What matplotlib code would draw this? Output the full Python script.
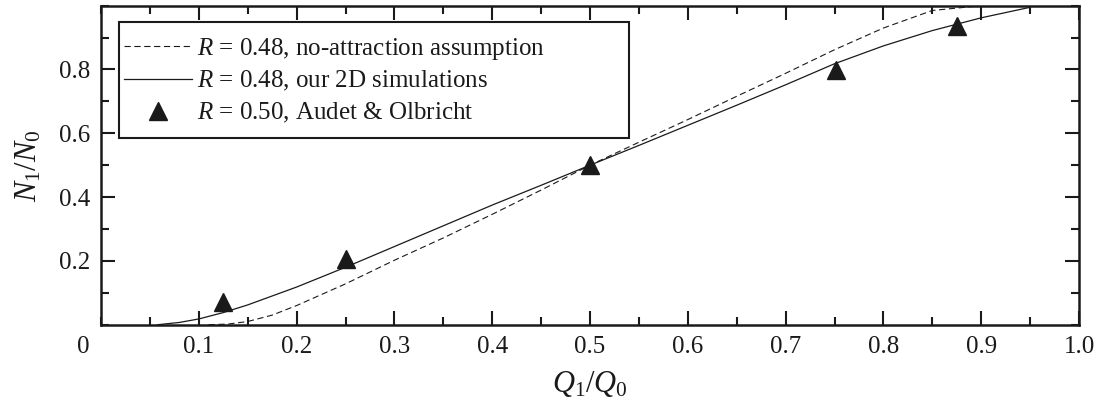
import matplotlib
matplotlib.use("Agg")
import matplotlib.pyplot as plt
from matplotlib.patches import Rectangle
from matplotlib.ticker import MultipleLocator

# ------------------------------------------------------------------
# Datos
# ------------------------------------------------------------------

# R = 0.48, hipótesis sin atracción (línea discontinua)
dash_x = [0.11, 0.13, 0.15, 0.175, 0.2, 0.25, 0.3, 0.35, 0.4, 0.45, 0.5,
          0.55, 0.6, 0.65, 0.7, 0.75, 0.8, 0.85, 0.9]
dash_y = [0.0, 0.002, 0.01, 0.03, 0.06, 0.128, 0.202, 0.272, 0.346, 0.422, 0.5,
          0.572, 0.643, 0.716, 0.788, 0.862, 0.93, 0.985, 1.0]

# R = 0.48, simulaciones 2D (línea continua)
sim_x = [0.058, 0.08, 0.1, 0.125, 0.15, 0.2, 0.25, 0.3, 0.35, 0.4, 0.45, 0.5,
         0.55, 0.6, 0.65, 0.7, 0.75, 0.8, 0.85, 0.9, 0.95]
sim_y = [0.0, 0.007, 0.018, 0.038, 0.062, 0.118, 0.18, 0.245, 0.31, 0.375, 0.437, 0.5,
         0.562, 0.625, 0.688, 0.752, 0.818, 0.874, 0.922, 0.962, 0.995]

# R = 0.50, Audet & Olbricht (triángulos)
exp_x = [0.125, 0.25, 0.5, 0.752, 0.875]
exp_y = [0.071, 0.205, 0.5, 0.797, 0.935]

x_ticks = [0.1, 0.2, 0.3, 0.4, 0.5, 0.6, 0.7, 0.8, 0.9, 1.0]
x_labels = ["0.1", "0.2", "0.3", "0.4", "0.5", "0.6", "0.7", "0.8", "0.9", "1.0"]
y_ticks = [0.2, 0.4, 0.6, 0.8]
y_labels = ["0.2", "0.4", "0.6", "0.8"]

plt.rcParams["font.family"] = ["Liberation Serif", "DejaVu Serif"]
plt.rcParams["mathtext.fontset"] = "custom"
plt.rcParams["mathtext.rm"] = "Liberation Serif"
plt.rcParams["mathtext.it"] = "Liberation Serif:italic"
plt.rcParams["lines.scale_dashes"] = False

fig = plt.figure(figsize=(11.02, 4.07), dpi=100)
ax = fig.add_axes([101 / 1102, 1 - 324.7 / 407, 978 / 1102, 319 / 407])

ink = "#1a1a1a"
ax.plot(dash_x, dash_y, color=ink, lw=0.8, linestyle=(0, (4.5, 2.6)),
        label=r"$R$ = 0.48, no-attraction assumption")
ax.plot(sim_x, sim_y, color=ink, lw=0.9,
        label=r"$R$ = 0.48, our 2D simulations")
ax.plot(exp_x, exp_y, linestyle="none", marker="^", markersize=13,
        color=ink, label=r"$R$ = 0.50, Audet & Olbricht")

ax.set_xlim(0, 1.0)
ax.set_ylim(0, 1.0)
ax.set_xticks(x_ticks)
ax.set_xticklabels(x_labels)
ax.set_yticks(y_ticks)
ax.set_yticklabels(y_labels)
ax.xaxis.set_minor_locator(MultipleLocator(0.05))
ax.yaxis.set_minor_locator(MultipleLocator(0.1))

ax.tick_params(which="both", direction="in", top=True, right=True,
               width=1.5, color=ink, labelsize=18, labelcolor=ink, pad=8)
ax.tick_params(which="major", length=10)
ax.tick_params(which="minor", length=5.5)
for s in ax.spines.values():
    s.set_linewidth(1.8)
    s.set_color(ink)

# origen compartido "0"
ax.annotate("0", xy=(0, 0), xycoords="data", xytext=(-13, -8),
            textcoords="offset points", ha="center", va="top",
            fontsize=18, color=ink)

ax.set_xlabel(r"$Q_1/Q_0$", fontsize=22, color=ink, labelpad=8)
ax.set_ylabel(r"$N_1/N_0$", fontsize=22, color=ink, labelpad=11)

leg = ax.legend(loc="center left", bbox_to_anchor=(23 / 978, 0.766),
                frameon=False, fontsize=18, borderpad=0, borderaxespad=0,
                handlelength=2.7, handletextpad=0.22, labelspacing=0.3)
for t in leg.get_texts():
    t.set_color(ink)

ax.add_patch(Rectangle((18.3 / 978, 0.586), (629 - 119.3) / 978, 0.948 - 0.586,
                       transform=ax.transAxes, fill=False, lw=1.5,
                       edgecolor=ink, zorder=5))

fig.savefig("out.png", dpi=100)
